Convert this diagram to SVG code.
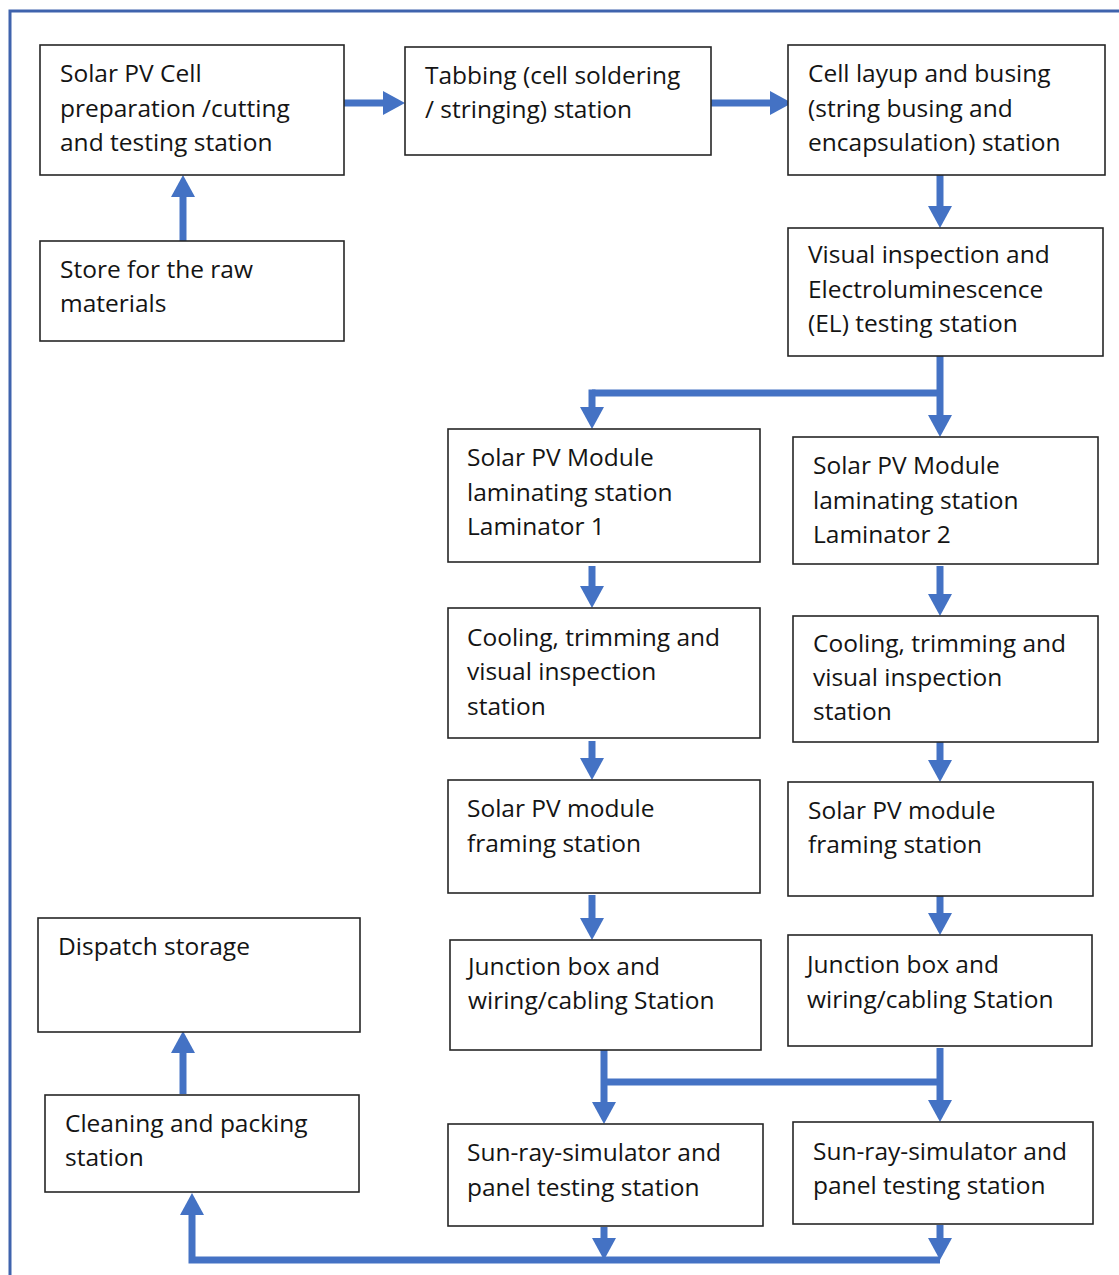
<svg xmlns="http://www.w3.org/2000/svg" width="1119" height="1275" viewBox="0 0 1119 1275">
<style>
.box{fill:#fff;stroke:#262626;stroke-width:1.6}
.t{font-family:"Open Sans","Liberation Sans",sans-serif;font-size:24.5px;fill:#141414}
.c{fill:none;stroke:#4472C4;stroke-width:7}
.ca{fill:none;stroke:#4472C4;stroke-width:7;marker-end:url(#ah)}
</style>
<defs>
<marker id="ah" markerUnits="userSpaceOnUse" markerWidth="24" markerHeight="24" viewBox="0 0 22 24" refX="8" refY="12" orient="auto">
<path d="M0,0 L22,12 L0,24 z" fill="#4472C4"/>
</marker>
</defs>
<rect width="1119" height="1275" fill="#fff"/>
<path d="M10,1275 V11 H1119" fill="none" stroke="#3F63AD" stroke-width="3"/>

<g id="connectors">
<path class="ca" d="M344,103 H391"/>
<path class="ca" d="M711,103 H778"/>
<path class="ca" d="M183,241 V189"/>
<path class="ca" d="M940,175 V214"/>
<path class="ca" d="M940,356 V423"/>
<path class="c" d="M940,393 H592"/>
<path class="ca" d="M592,389.5 V415"/>
<path class="ca" d="M592,566 V594"/>
<path class="ca" d="M940,566 V602"/>
<path class="ca" d="M592,741 V766"/>
<path class="ca" d="M940,741 V768"/>
<path class="ca" d="M592,895 V926"/>
<path class="ca" d="M940,896 V921"/>
<path class="ca" d="M604,1048 V1110"/>
<path class="ca" d="M940,1048 V1108"/>
<path class="c" d="M604,1082 H940"/>
<path class="ca" d="M604,1227 V1246"/>
<path class="ca" d="M940,1225 V1246"/>
<path class="ca" d="M940,1260 H192 V1207"/>
<path class="ca" d="M183,1094 V1045"/>
</g>

<g id="n1"><rect class="box" x="40" y="45" width="304" height="130"/>
<text class="t" x="60" y="82">Solar PV Cell</text><text class="t" x="60" y="117">preparation /cutting</text><text class="t" x="60" y="151">and testing station</text></g>
<g id="n2"><rect class="box" x="405" y="47" width="306" height="108"/>
<text class="t" x="425" y="84">Tabbing (cell soldering</text><text class="t" x="425" y="118">/ stringing) station</text></g>
<g id="n3"><rect class="box" x="788" y="45" width="317" height="130"/>
<text class="t" x="808" y="82">Cell layup and busing</text><text class="t" x="808" y="117">(string busing and</text><text class="t" x="808" y="151">encapsulation) station</text></g>
<g id="n4"><rect class="box" x="40" y="241" width="304" height="100"/>
<text class="t" x="60" y="278">Store for the raw</text><text class="t" x="60" y="312">materials</text></g>
<g id="n5"><rect class="box" x="788" y="228" width="315" height="128"/>
<text class="t" x="808" y="263">Visual inspection and</text><text class="t" x="808" y="298">Electroluminescence</text><text class="t" x="808" y="332">(EL) testing station</text></g>
<g id="n6"><rect class="box" x="448" y="429" width="312" height="133"/>
<text class="t" x="467" y="466">Solar PV Module</text><text class="t" x="467" y="501">laminating station</text><text class="t" x="467" y="535">Laminator 1</text></g>
<g id="n7"><rect class="box" x="793" y="437" width="305" height="127"/>
<text class="t" x="813" y="474">Solar PV Module</text><text class="t" x="813" y="509">laminating station</text><text class="t" x="813" y="543">Laminator 2</text></g>
<g id="n8"><rect class="box" x="448" y="608" width="312" height="130"/>
<text class="t" x="467" y="646">Cooling, trimming and</text><text class="t" x="467" y="680">visual inspection</text><text class="t" x="467" y="715">station</text></g>
<g id="n9"><rect class="box" x="793" y="616" width="305" height="126"/>
<text class="t" x="813" y="652">Cooling, trimming and</text><text class="t" x="813" y="686">visual inspection</text><text class="t" x="813" y="720">station</text></g>
<g id="n10"><rect class="box" x="448" y="780" width="312" height="113"/>
<text class="t" x="467" y="817">Solar PV module</text><text class="t" x="467" y="852">framing station</text></g>
<g id="n11"><rect class="box" x="788" y="782" width="305" height="114"/>
<text class="t" x="808" y="819">Solar PV module</text><text class="t" x="808" y="853">framing station</text></g>
<g id="n12"><rect class="box" x="38" y="918" width="322" height="114"/>
<text class="t" x="58" y="955">Dispatch storage</text></g>
<g id="n13"><rect class="box" x="450" y="940" width="311" height="110"/>
<text class="t" x="468" y="975">Junction box and</text><text class="t" x="468" y="1009">wiring/cabling Station</text></g>
<g id="n14"><rect class="box" x="788" y="935" width="304" height="111"/>
<text class="t" x="807" y="973">Junction box and</text><text class="t" x="807" y="1008">wiring/cabling Station</text></g>
<g id="n15"><rect class="box" x="45" y="1095" width="314" height="97"/>
<text class="t" x="65" y="1132">Cleaning and packing</text><text class="t" x="65" y="1166">station</text></g>
<g id="n16"><rect class="box" x="448" y="1124" width="315" height="102"/>
<text class="t" x="467" y="1161">Sun-ray-simulator and</text><text class="t" x="467" y="1196">panel testing station</text></g>
<g id="n17"><rect class="box" x="793" y="1122" width="300" height="102"/>
<text class="t" x="813" y="1160">Sun-ray-simulator and</text><text class="t" x="813" y="1194">panel testing station</text></g>
</svg>
